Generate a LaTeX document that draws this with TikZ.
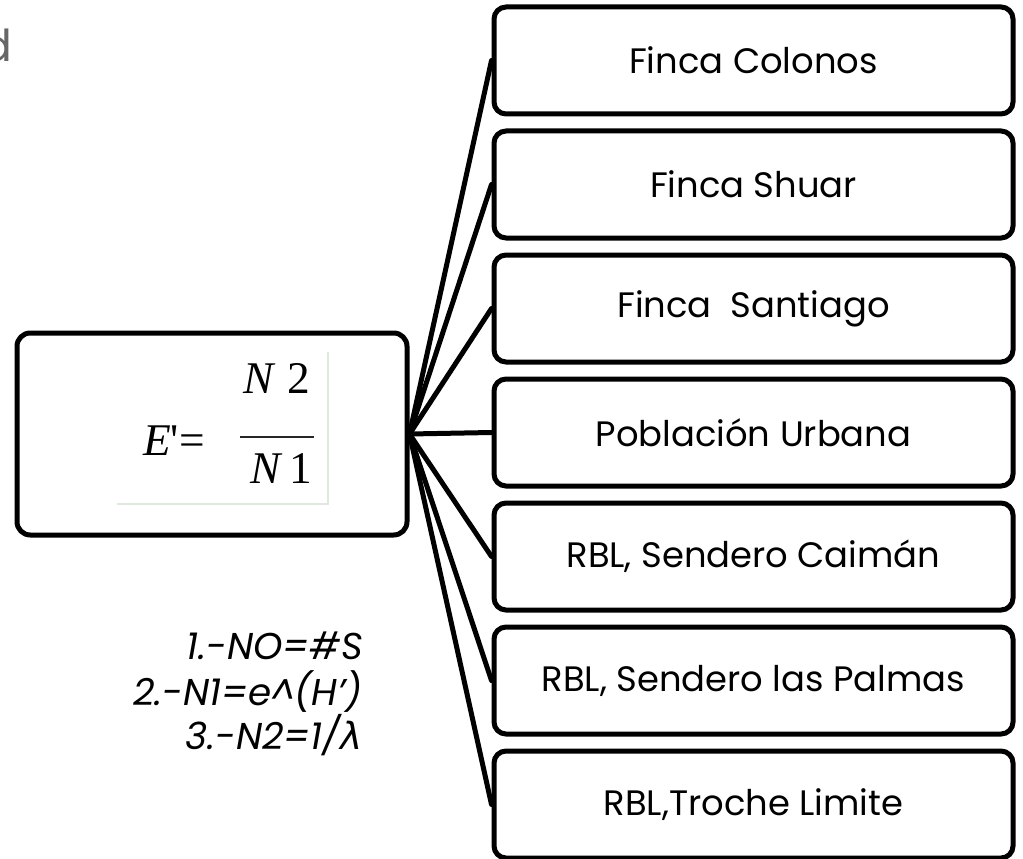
\documentclass[tikz,border=0pt]{standalone}
\usepackage{fontspec}
\setmainfont{Poppins}
\newfontfamily\formulafont{Liberation Serif}
\newfontfamily\lambdafont{DejaVu Sans}
\begin{document}
\begin{tikzpicture}[x=0.75pt,y=-0.75pt,
  leaf/.style={draw, line width=3.75pt, rounded corners=9pt,
    minimum width=389.25pt, minimum height=80.25pt, inner sep=0pt,
    font=\fontsize{26.5}{30}\selectfont},
  hub/.style={draw, line width=3.75pt, rounded corners=10pt,
    minimum width=292.5pt, minimum height=151.5pt, inner sep=0pt},
  formula/.style={inner sep=0pt, font=\formulafont\fontsize{34}{34}\selectfont},
  defn/.style={anchor=base east, inner sep=0pt, font=\itshape\fontsize{28}{28}\selectfont},
  conn/.style={line width=3.75pt, line cap=round}]
\useasboundingbox (0,0) rectangle (1023,859);

% partial caption at the top left
\node[anchor=base east, inner sep=0pt, text=black!60,
  font=\fontsize{33}{36}\selectfont] (cut) at (13,62) {d};

% central box holding the evenness formula
\node[hub] (hub) at (212,434) {};
\fill[white] (117,352) rectangle (328,504);
\draw[green!25!black!12, line width=1pt] (328,352) -- (328,504) -- (117,504);
\node[formula, anchor=base west] (lhs) at (143,455) {\itshape E\upshape '=};
\draw[line width=1.2pt, black!85] (240,437) -- (314,437);
\node[formula, anchor=base] (num) at (277,393) {\itshape N\hspace{0.3em}\upshape 2};
\node[formula, anchor=base] (den) at (281,483) {\itshape N\hspace{0.2em}\upshape 1};

% definitions
\node[defn] (d1) at (363,659) {1.-NO=\#S};
\node[defn] (d2) at (363,705) {2.-N1=e\textasciicircum(H’)};
\node[defn] (d3) at (363,749) {3.-N2=1/{\lambdafont\itshape λ}};

% sampling sites
\node[leaf] (s1) at (753.5,60.5)  {Finca Colonos};
\node[leaf] (s2) at (753.5,184.5) {Finca Shuar};
\node[leaf] (s3) at (753.5,308.5) {Finca\ \ Santiago};
\node[leaf] (s4) at (753.5,432.5) {Población Urbana};
\node[leaf] (s5) at (753.5,556.5) {RBL, Sendero Caimán};
\node[leaf] (s6) at (753.5,680.5) {RBL, Sendero las Palmas};
\node[leaf] (s7) at (753.5,804.5) {RBL,Troche Limite};

\foreach \s in {s1,s2,s3,s4,s5,s6,s7}
  \draw[conn] (hub.east) -- (\s.west);
\end{tikzpicture}
\end{document}
